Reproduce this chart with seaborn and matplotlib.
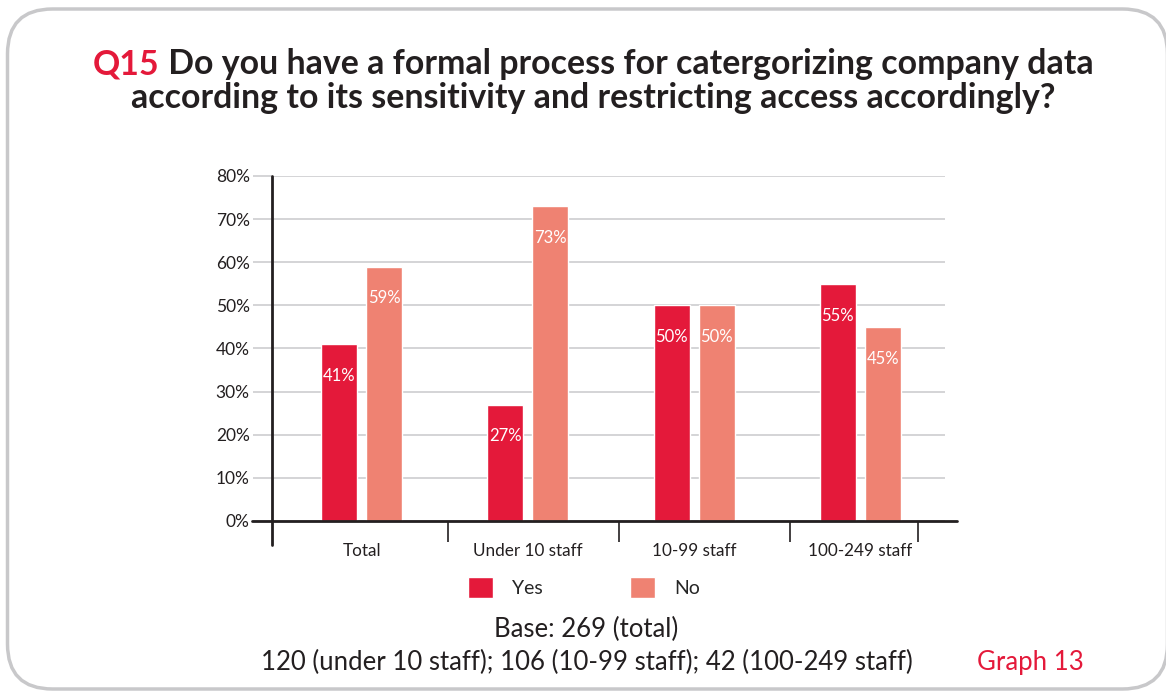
import pandas as pd
import seaborn as sns
import matplotlib.pyplot as plt
from matplotlib.patches import Patch, FancyBboxPatch
from matplotlib.ticker import FuncFormatter

# dados do gráfico
categories = ["Total", "Under 10 staff", "10-99 staff", "100-249 staff"]
yes_pct = [41, 27, 50, 55]
no_pct = [59, 73, 50, 45]
answers = ["Yes", "No"]

red = "#E4193A"
salmon = "#EF8272"
dark = "#231F20"
grid_gray = "#C9C9CB"

df = pd.DataFrame({
    "group": categories * 2,
    "answer": ["Yes"] * len(categories) + ["No"] * len(categories),
    "pct": yes_pct + no_pct,
})

sns.set_theme(style="white")
plt.rcParams["font.family"] = ["Lato", "DejaVu Sans"]

fig = plt.figure(figsize=(11.66, 6.95), dpi=100)

# moldura arredondada
frame = FancyBboxPatch((0.075, 0.06), 11.6, 6.8,
                       boxstyle="round,pad=0,rounding_size=0.45",
                       transform=fig.dpi_scale_trans, facecolor="white",
                       edgecolor="#C8C8CA", linewidth=2.5, zorder=-5)
fig.patches.append(frame)

ax = fig.add_axes([0.2333, 0.2504, 0.5772, 0.4964])
ax.patch.set_alpha(0)

sns.barplot(data=df, x="group", y="pct", hue="answer", hue_order=answers,
            palette=[red, salmon], saturation=1, width=0.542, gap=0.2,
            legend=False, ax=ax, zorder=3)

ax.set_ylim(0, 80)
ax.set_xlim(-0.54, 3.51)
ax.set_yticks(range(0, 81, 10))
ax.yaxis.set_major_formatter(FuncFormatter(lambda v, p: f"{v:.0f}%"))
ax.grid(axis="y", color=grid_gray, linewidth=1.1, zorder=0)
ax.tick_params(axis="y", length=14, width=1.1, color=grid_gray, pad=2,
               labelsize=12.5, labelcolor=dark, left=True)
ax.tick_params(axis="x", which="major", length=0, pad=16, labelsize=12.3,
               labelcolor=dark)
ax.set_xticks([0.52, 1.55, 2.58, 3.35], minor=True)
ax.tick_params(axis="x", which="minor", length=15, width=1.2, color=dark,
               bottom=True)
ax.set_xlabel("")
ax.set_ylabel("")
for s in ax.spines.values():
    s.set_visible(False)

# eixos desenhados à mão (estendem além da área)
ax.axvline(-0.54, ymin=-0.07, ymax=1.0, color=dark, lw=2, clip_on=False, zorder=4)
ax.axhline(0, xmin=-0.03, xmax=1.018, color=dark, lw=2, clip_on=False, zorder=4)

# rótulos dentro das barras
for cont, vals in zip(ax.containers, [yes_pct, no_pct]):
    for bar, v in zip(cont, vals):
        ax.annotate(f"{v}%", (bar.get_x() + bar.get_width() / 2, bar.get_height()),
                    xytext=(0, -23), textcoords="offset points",
                    ha="center", va="center", color="white", fontsize=12, zorder=5)

# legenda
handles = [Patch(facecolor=red), Patch(facecolor=salmon)]
fig.legend(handles, answers, loc="center", bbox_to_anchor=(0.501, 0.155),
           ncol=2, frameon=False, handlelength=1.25, handleheight=1.25,
           columnspacing=4.5, handletextpad=1.0, fontsize=14)

# título com "Q15" em vermelho
W = fig.get_figwidth() * fig.dpi
t_q = fig.text(0, 0.8935, "Q15", color=red, fontsize=24.4, fontweight="bold",
               va="baseline")
t_rest = fig.text(0, 0.8935, " Do you have a formal process for catergorizing company data",
                  color=dark, fontsize=24.4, fontweight="bold", va="baseline")
fig.canvas.draw()
r = fig.canvas.get_renderer()
w1 = t_q.get_window_extent(r).width
w2 = t_rest.get_window_extent(r).width
x0 = 0.5086 * W - (w1 + w2) / 2
t_q.set_x(x0 / W)
t_rest.set_x((x0 + w1) / W)
fig.text(0.5086, 0.8446, "according to its sensitivity and restricting access accordingly?",
         color=dark, fontsize=24.4, fontweight="bold", ha="center", va="baseline")

# rodapé
fig.text(0.503, 0.0835, "Base: 269 (total)", ha="center", va="baseline",
         fontsize=18.5, color=dark)
fig.text(0.503, 0.036, "120 (under 10 staff); 106 (10-99 staff); 42 (100-249 staff)",
         ha="center", va="baseline", fontsize=18.5, color=dark)
fig.text(0.838, 0.036, "Graph 13", ha="left", va="baseline", fontsize=18.5, color=red)

fig.savefig("out.png", dpi=100)
